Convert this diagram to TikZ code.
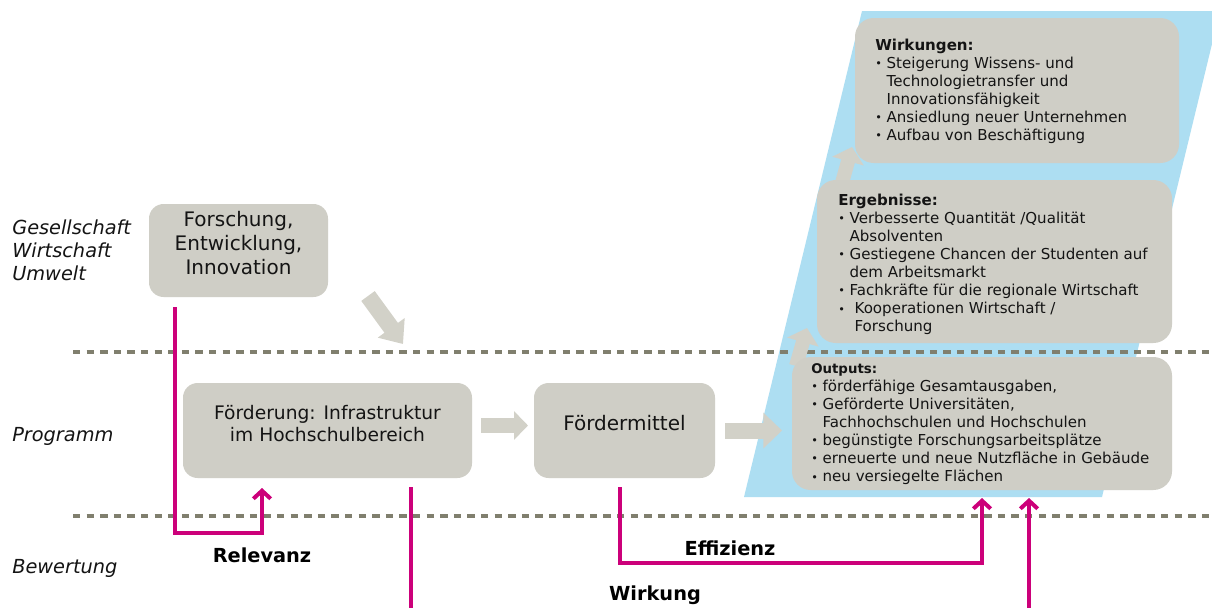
\documentclass[tikz,border=0pt]{standalone}
\usepackage{fontspec}
\setmainfont{DejaVu Sans}
\usepackage{graphicx}
\usetikzlibrary{arrows.meta,calc,fit}
\definecolor{boxgray}{RGB}{207,206,198}
\definecolor{arrgray}{RGB}{210,209,200}
\definecolor{skyblue}{RGB}{173,222,242}
\definecolor{sepgray}{RGB}{128,127,110}
\definecolor{mag}{RGB}{204,0,122}
\definecolor{txt}{RGB}{20,20,20}
\newcommand{\bulx}{\makebox[8.5pt][l]{\raisebox{0.6pt}{\scalebox{0.75}{•}}}}
\newcommand{\indx}{\hspace*{8.5pt}}
\tikzset{
  graybox/.style={fill=boxgray, draw=none, inner sep=0pt, outer sep=0pt, text=txt, align=center},
  bigtext/.style={font=\fontsize{15}{18}\selectfont},
  bodytext/.style={font=\fontsize{11.3}{13.6}\selectfont, text=txt, inner sep=0pt, anchor=base west},
  sidelabel/.style={font=\fontsize{14.5}{17.25}\selectfont\itshape, text=txt, align=left, anchor=west, inner sep=0pt},
  critlabel/.style={font=\fontsize{14.5}{17}\selectfont\bfseries, text=black, inner sep=0pt},
  separator/.style={draw=sepgray, line width=3pt, dash pattern=on 5.6pt off 4.6pt},
  magline/.style={draw=mag, line width=3pt, -{Straight Barb[length=6pt,width=13pt]}},
  blockA/.style={draw=arrgray, line width=11pt, -{Triangle[length=10.5pt,width=21pt]}},
  blockB/.style={draw=arrgray, line width=12pt, -{Triangle[length=14pt,width=26pt]}},
  blockC/.style={draw=arrgray, line width=12.5pt, -{Triangle[length=15pt,width=24pt]}},
  blockS/.style={draw=arrgray, line width=10.5pt, -{Triangle[length=11pt,width=24pt]}},
}
\begin{document}
\begin{tikzpicture}[x=0.75pt,y=-0.75pt]
\clip (0,0) rectangle (1212,607);
\fill[white] (0,0) rectangle (1212,607);
% blue parallelogram
\fill[skyblue] (862,11) -- (1220,11) -- (1102,497) -- (744,497) -- cycle;
% separators
\draw[separator] (73,352) -- (1212,352);
\draw[separator] (73,516) -- (1212,516);
% small arrows and diagonal arrow
\coordinate (sa1) at (796,366);
\coordinate (sa2) at (807,328);
\coordinate (sb1) at (840,190);
\coordinate (sb2) at (852,147);
\coordinate (da1) at (368,296);
\coordinate (da2) at (403,344);
\draw[blockS] (sa1) -- (sa2);
\draw[blockS] (sb1) -- (sb2);
\draw[blockC] (da1) -- (da2);
% boxes
\node[graybox, rounded corners=14pt, fit={(855,18) (1179,163)}] (wirk) {};
\node[graybox, rounded corners=14pt, fit={(817,180) (1172,343)}] (erg) {};
\node[graybox, rounded corners=14pt, fit={(792,357) (1172,490)}] (out) {};
\node[graybox, bigtext, rounded corners=11pt, fit={(149,204) (328,297)}] (fei) {Forschung,\\Entwicklung,\\Innovation};
\node[graybox, font=\fontsize{14}{16.5}\selectfont, rounded corners=11pt, fit={(183,383) (472,478)}] (foe) {Förderung: Infrastruktur\\im Hochschulbereich};
\node[graybox, bigtext, rounded corners=11pt, fit={(534,383) (715,478)}] (fm) {Fördermittel};
% box texts
\node[bodytext] (wirkT) at (875,50) {\begin{tabular}[t]{@{}l@{}}
\textbf{Wirkungen:}\\
\bulx Steigerung Wissens- und\\
\indx Technologietransfer und\\
\indx Innovationsfähigkeit\\
\bulx Ansiedlung neuer Unternehmen\\
\bulx Aufbau von Beschäftigung
\end{tabular}};
\node[bodytext] (ergT) at (838,205) {\begin{tabular}[t]{@{}l@{}}
\textbf{Ergebnisse:}\\
\bulx Verbesserte Quantität /Qualität\\
\indx Absolventen\\
\bulx Gestiegene Chancen der Studenten auf\\
\indx dem Arbeitsmarkt\\
\bulx Fachkräfte für die regionale Wirtschaft\\
\bulx\hspace*{3.75pt}Kooperationen Wirtschaft /\\
\indx\hspace*{3.75pt}Forschung
\end{tabular}};
\node[bodytext] (outT) at (811,373) {\begin{tabular}[t]{@{}l@{}}
{\fontsize{10}{13.6}\selectfont\bfseries Outputs:}\\
\bulx förderfähige Gesamtausgaben,\\
\bulx Geförderte Universitäten,\\
\indx Fachhochschulen und Hochschulen\\
\bulx begünstigte Forschungsarbeitsplätze\\
\bulx erneuerte und neue Nutzfläche in Gebäude\\
\bulx neu versiegelte Flächen
\end{tabular}};
% block arrows between boxes
\draw[blockA] ($(foe.east)+(9,-5)$) -- ($(fm.west)+(-6,-5)$);
\draw[blockB] ($(fm.east)+(10,0)$) -- ($(fm.east -| out.west)+(-10,0)$);
% side labels
\node[sidelabel] (gwu) at (12,250) {Gesellschaft\\Wirtschaft\\Umwelt};
\node[sidelabel] (prog) at (12,436) {Programm};
\node[sidelabel] (bew) at (12,568) {Bewertung};
% evaluation connectors
\draw[magline] ($(fei.south west)+(26,10)$) |- ($(foe.south west)+(79,55)$) -- ($(foe.south west)+(79,10)$);
\draw[magline] ($(fm.south west)+(86,9)$) |- ($(out.south west)+(190,73)$) -- ($(out.south west)+(190,8)$);
\draw[magline] ($(foe.south west)+(228,9)$) |- ($(out.south west)+(237,135)$) -- ($(out.south west)+(237,8)$);
\node[critlabel] (rel) at (262,555) {Relevanz};
\node[critlabel] (eff) at (730,548) {Effizienz};
\node[critlabel] (wkg) at (655,595) {Wirkung};
\end{tikzpicture}
\end{document}
